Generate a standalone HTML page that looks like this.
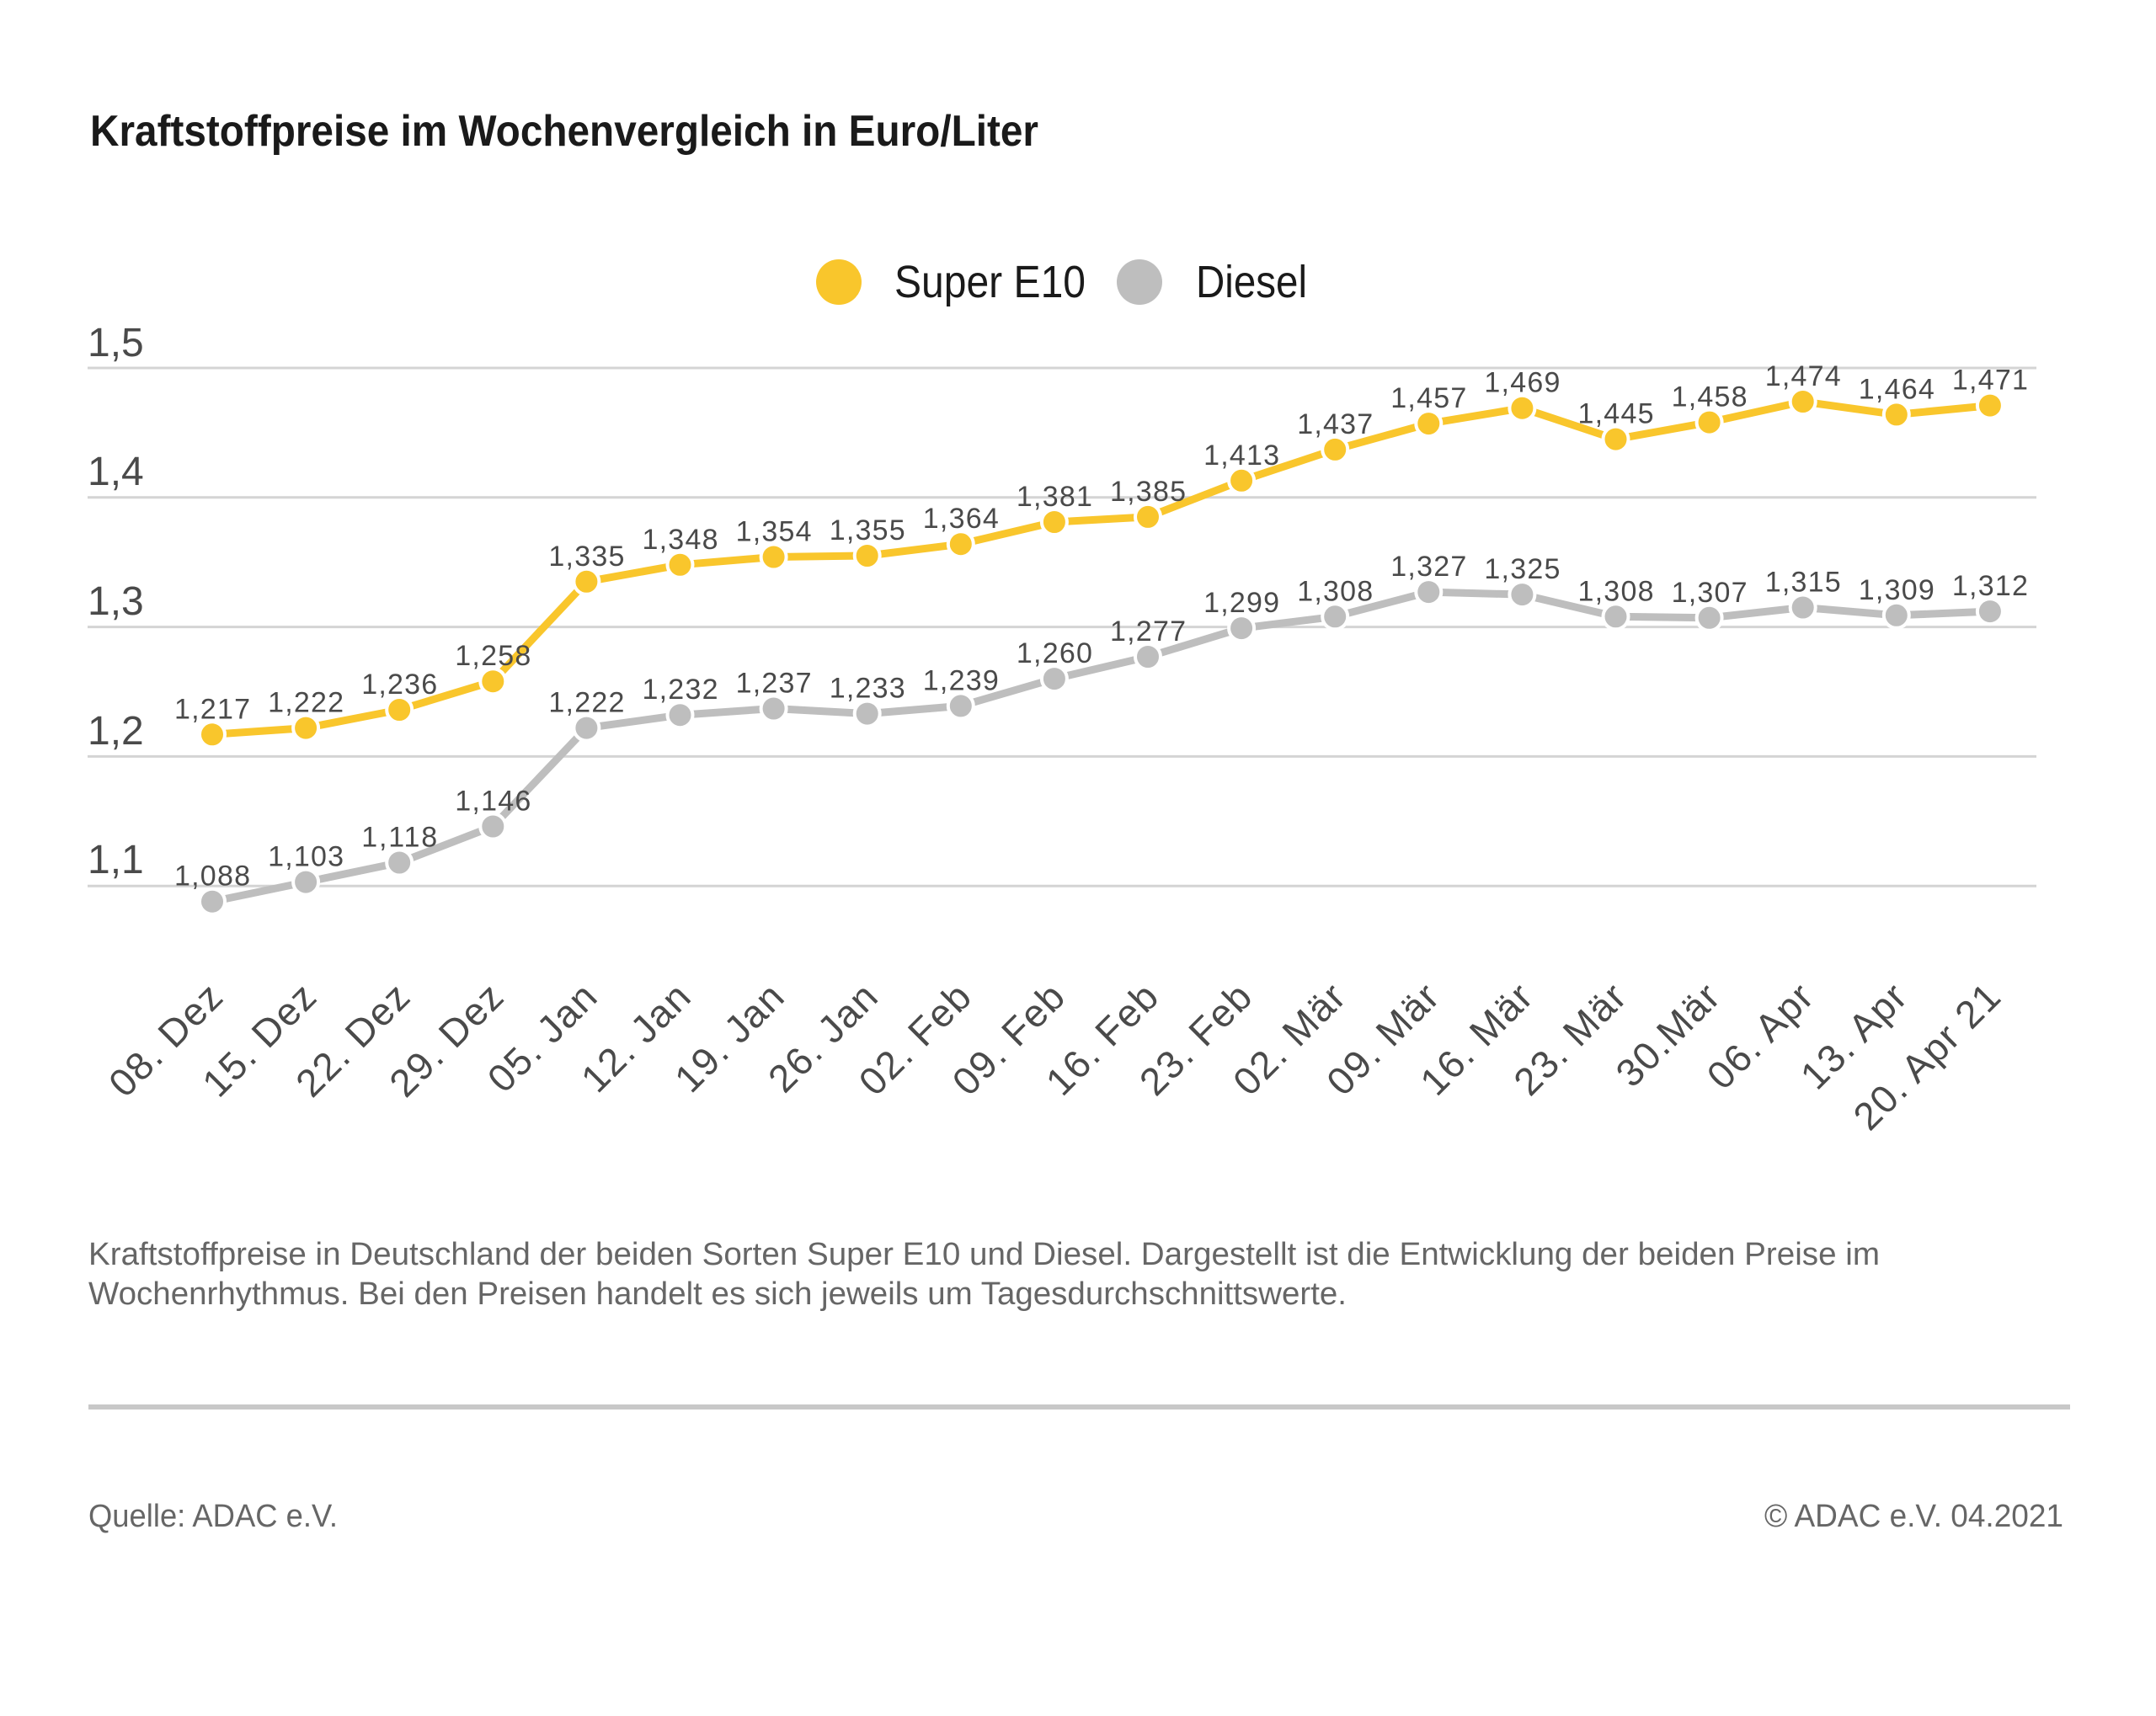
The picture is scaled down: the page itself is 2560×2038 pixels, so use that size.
<!DOCTYPE html>
<html>
<head>
<meta charset="utf-8">
<style>
  html, body { margin: 0; padding: 0; background: #ffffff; }
  svg { display: block; }
  text { font-family: "Liberation Sans", Arial, sans-serif; }
</style>
</head>
<body>
<svg width="2560" height="2038" viewBox="0 0 2560 2038" xmlns="http://www.w3.org/2000/svg">
  <rect x="0" y="0" width="2560" height="2038" fill="#ffffff"/>

  <!-- Title -->
  <text x="107" y="173" font-size="52" font-weight="bold" fill="#1a1a1a" textLength="1126" lengthAdjust="spacingAndGlyphs">Kraftstoffpreise im Wochenvergleich in Euro/Liter</text>

  <!-- Legend -->
  <circle cx="996" cy="335" r="27" fill="#F9C62C"/>
  <text x="1062" y="353" font-size="54" fill="#1a1a1a" textLength="227" lengthAdjust="spacingAndGlyphs">Super E10</text>
  <circle cx="1353" cy="335" r="27" fill="#BEBEBE"/>
  <text x="1420" y="353" font-size="54" fill="#1a1a1a" textLength="132" lengthAdjust="spacingAndGlyphs">Diesel</text>

  <!-- Gridlines -->
  <g stroke="#D4D4D4" stroke-width="3">
    <line x1="104" y1="437" x2="2418" y2="437"/>
    <line x1="104" y1="590.8" x2="2418" y2="590.8"/>
    <line x1="104" y1="744.6" x2="2418" y2="744.6"/>
    <line x1="104" y1="898.4" x2="2418" y2="898.4"/>
    <line x1="104" y1="1052.2" x2="2418" y2="1052.2"/>
  </g>

  <!-- Y labels -->
  <g font-size="48" fill="#4a4a4a">
    <text x="104" y="423">1,5</text>
    <text x="104" y="576">1,4</text>
    <text x="104" y="730">1,3</text>
    <text x="104" y="884">1,2</text>
    <text x="104" y="1037">1,1</text>
  </g>

  <!-- Super E10 line -->
  <polyline fill="none" stroke="#F9C62C" stroke-width="9" stroke-linejoin="round"
    points="252,872.3 363.1,864.6 474.2,843.0 585.3,809.2 696.4,690.8 807.5,670.8 918.6,661.5 1029.7,660.0 1140.8,646.2 1251.9,620.0 1363.0,613.9 1474.1,570.8 1585.2,533.9 1696.3,503.1 1807.4,484.7 1918.5,521.6 2029.6,501.6 2140.7,477.0 2251.8,492.4 2362.9,481.6"/>

  <!-- Diesel line -->
  <polyline fill="none" stroke="#BEBEBE" stroke-width="9" stroke-linejoin="round"
    points="252,1070.7 363.1,1047.6 474.2,1024.5 585.3,981.5 696.4,864.6 807.5,849.2 918.6,841.5 1029.7,847.6 1140.8,838.4 1251.9,806.1 1363.0,780.0 1474.1,746.1 1585.2,732.3 1696.3,703.1 1807.4,706.1 1918.5,732.3 2029.6,733.8 2140.7,721.5 2251.8,730.8 2362.9,726.1"/>

  <!-- Super E10 dots -->
  <g fill="#F9C62C" stroke="#ffffff" stroke-width="4">
    <circle cx="252" cy="872.3" r="15"/>
    <circle cx="363.1" cy="864.6" r="15"/>
    <circle cx="474.2" cy="843.0" r="15"/>
    <circle cx="585.3" cy="809.2" r="15"/>
    <circle cx="696.4" cy="690.8" r="15"/>
    <circle cx="807.5" cy="670.8" r="15"/>
    <circle cx="918.6" cy="661.5" r="15"/>
    <circle cx="1029.7" cy="660.0" r="15"/>
    <circle cx="1140.8" cy="646.2" r="15"/>
    <circle cx="1251.9" cy="620.0" r="15"/>
    <circle cx="1363.0" cy="613.9" r="15"/>
    <circle cx="1474.1" cy="570.8" r="15"/>
    <circle cx="1585.2" cy="533.9" r="15"/>
    <circle cx="1696.3" cy="503.1" r="15"/>
    <circle cx="1807.4" cy="484.7" r="15"/>
    <circle cx="1918.5" cy="521.6" r="15"/>
    <circle cx="2029.6" cy="501.6" r="15"/>
    <circle cx="2140.7" cy="477.0" r="15"/>
    <circle cx="2251.8" cy="492.4" r="15"/>
    <circle cx="2362.9" cy="481.6" r="15"/>
  </g>

  <!-- Diesel dots -->
  <g fill="#BEBEBE" stroke="#ffffff" stroke-width="4">
    <circle cx="252" cy="1070.7" r="15"/>
    <circle cx="363.1" cy="1047.6" r="15"/>
    <circle cx="474.2" cy="1024.5" r="15"/>
    <circle cx="585.3" cy="981.5" r="15"/>
    <circle cx="696.4" cy="864.6" r="15"/>
    <circle cx="807.5" cy="849.2" r="15"/>
    <circle cx="918.6" cy="841.5" r="15"/>
    <circle cx="1029.7" cy="847.6" r="15"/>
    <circle cx="1140.8" cy="838.4" r="15"/>
    <circle cx="1251.9" cy="806.1" r="15"/>
    <circle cx="1363.0" cy="780.0" r="15"/>
    <circle cx="1474.1" cy="746.1" r="15"/>
    <circle cx="1585.2" cy="732.3" r="15"/>
    <circle cx="1696.3" cy="703.1" r="15"/>
    <circle cx="1807.4" cy="706.1" r="15"/>
    <circle cx="1918.5" cy="732.3" r="15"/>
    <circle cx="2029.6" cy="733.8" r="15"/>
    <circle cx="2140.7" cy="721.5" r="15"/>
    <circle cx="2251.8" cy="730.8" r="15"/>
    <circle cx="2362.9" cy="726.1" r="15"/>
  </g>

  <!-- Super E10 value labels -->
  <g font-size="34" fill="#4a4a4a" text-anchor="middle">
    <text x="252" y="853.3" textLength="90">1,217</text>
    <text x="363.1" y="845.6" textLength="90">1,222</text>
    <text x="474.2" y="824.0" textLength="90">1,236</text>
    <text x="585.3" y="790.2" textLength="90">1,258</text>
    <text x="696.4" y="671.8" textLength="90">1,335</text>
    <text x="807.5" y="651.8" textLength="90">1,348</text>
    <text x="918.6" y="642.5" textLength="90">1,354</text>
    <text x="1029.7" y="641.0" textLength="90">1,355</text>
    <text x="1140.8" y="627.2" textLength="90">1,364</text>
    <text x="1251.9" y="601.0" textLength="90">1,381</text>
    <text x="1363.0" y="594.9" textLength="90">1,385</text>
    <text x="1474.1" y="551.8" textLength="90">1,413</text>
    <text x="1585.2" y="514.9" textLength="90">1,437</text>
    <text x="1696.3" y="484.1" textLength="90">1,457</text>
    <text x="1807.4" y="465.7" textLength="90">1,469</text>
    <text x="1918.5" y="502.6" textLength="90">1,445</text>
    <text x="2029.6" y="482.6" textLength="90">1,458</text>
    <text x="2140.7" y="458.0" textLength="90">1,474</text>
    <text x="2251.8" y="473.4" textLength="90">1,464</text>
    <text x="2362.9" y="462.6" textLength="90">1,471</text>
  </g>

  <!-- Diesel value labels -->
  <g font-size="34" fill="#4a4a4a" text-anchor="middle">
    <text x="252" y="1051.7" textLength="90">1,088</text>
    <text x="363.1" y="1028.6" textLength="90">1,103</text>
    <text x="474.2" y="1005.5" textLength="90">1,118</text>
    <text x="585.3" y="962.5" textLength="90">1,146</text>
    <text x="696.4" y="845.6" textLength="90">1,222</text>
    <text x="807.5" y="830.2" textLength="90">1,232</text>
    <text x="918.6" y="822.5" textLength="90">1,237</text>
    <text x="1029.7" y="828.6" textLength="90">1,233</text>
    <text x="1140.8" y="819.4" textLength="90">1,239</text>
    <text x="1251.9" y="787.1" textLength="90">1,260</text>
    <text x="1363.0" y="761.0" textLength="90">1,277</text>
    <text x="1474.1" y="727.1" textLength="90">1,299</text>
    <text x="1585.2" y="713.3" textLength="90">1,308</text>
    <text x="1696.3" y="684.1" textLength="90">1,327</text>
    <text x="1807.4" y="687.1" textLength="90">1,325</text>
    <text x="1918.5" y="713.3" textLength="90">1,308</text>
    <text x="2029.6" y="714.8" textLength="90">1,307</text>
    <text x="2140.7" y="702.5" textLength="90">1,315</text>
    <text x="2251.8" y="711.8" textLength="90">1,309</text>
    <text x="2362.9" y="707.1" textLength="90">1,312</text>
  </g>

  <!-- X axis labels -->
  <g font-size="46" fill="#4a4a4a" text-anchor="end" letter-spacing="1.5">
    <text x="268" y="1186" transform="rotate(-45 268 1186)">08. Dez</text>
    <text x="379.1" y="1186" transform="rotate(-45 379.1 1186)">15. Dez</text>
    <text x="490.2" y="1186" transform="rotate(-45 490.2 1186)">22. Dez</text>
    <text x="601.3" y="1186" transform="rotate(-45 601.3 1186)">29. Dez</text>
    <text x="712.4" y="1186" transform="rotate(-45 712.4 1186)">05. Jan</text>
    <text x="823.5" y="1186" transform="rotate(-45 823.5 1186)">12. Jan</text>
    <text x="934.6" y="1186" transform="rotate(-45 934.6 1186)">19. Jan</text>
    <text x="1045.7" y="1186" transform="rotate(-45 1045.7 1186)">26. Jan</text>
    <text x="1156.8" y="1186" transform="rotate(-45 1156.8 1186)">02. Feb</text>
    <text x="1267.9" y="1186" transform="rotate(-45 1267.9 1186)">09. Feb</text>
    <text x="1379.0" y="1186" transform="rotate(-45 1379.0 1186)">16. Feb</text>
    <text x="1490.1" y="1186" transform="rotate(-45 1490.1 1186)">23. Feb</text>
    <text x="1601.2" y="1186" transform="rotate(-45 1601.2 1186)">02. Mär</text>
    <text x="1712.3" y="1186" transform="rotate(-45 1712.3 1186)">09. Mär</text>
    <text x="1823.4" y="1186" transform="rotate(-45 1823.4 1186)">16. Mär</text>
    <text x="1934.5" y="1186" transform="rotate(-45 1934.5 1186)">23. Mär</text>
    <text x="2045.6" y="1186" transform="rotate(-45 2045.6 1186)">30.Mär</text>
    <text x="2156.7" y="1186" transform="rotate(-45 2156.7 1186)">06. Apr</text>
    <text x="2267.8" y="1186" transform="rotate(-45 2267.8 1186)">13. Apr</text>
    <text x="2378.9" y="1186" transform="rotate(-45 2378.9 1186)">20. Apr 21</text>
  </g>

  <!-- Caption -->
  <g font-size="38" fill="#666666">
    <text x="105" y="1502" textLength="2127" lengthAdjust="spacingAndGlyphs">Kraftstoffpreise in Deutschland der beiden Sorten Super E10 und Diesel. Dargestellt ist die Entwicklung der beiden Preise im</text>
    <text x="105" y="1549" textLength="1494" lengthAdjust="spacingAndGlyphs">Wochenrhythmus. Bei den Preisen handelt es sich jeweils um Tagesdurchschnittswerte.</text>
  </g>

  <!-- Rule -->
  <rect x="105" y="1668" width="2353" height="6" fill="#C8C8C8"/>

  <!-- Footer -->
  <text x="105" y="1813" font-size="38" fill="#666666" textLength="296" lengthAdjust="spacingAndGlyphs">Quelle: ADAC e.V.</text>
  <text x="2450" y="1813" font-size="38" fill="#666666" text-anchor="end" textLength="355" lengthAdjust="spacingAndGlyphs">© ADAC e.V. 04.2021</text>
</svg>
</body>
</html>
